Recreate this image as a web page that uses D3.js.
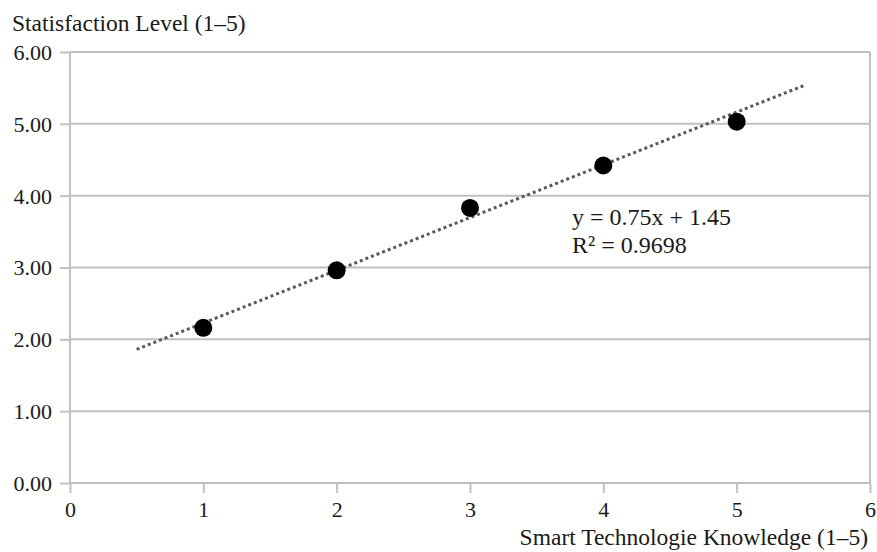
<!DOCTYPE html>
<html><head><meta charset="utf-8">
<script src="https://cdn.jsdelivr.net/npm/d3@7"></script>
<style>body{margin:0;background:#fff}svg{display:block}text{font-family:"Liberation Serif","Times New Roman",serif;fill:#1a1a1a}</style>
</head><body>
<script>
const knowledge = [1, 2, 3, 4, 5];
const satisfaction = [2.16, 2.96, 3.83, 4.42, 5.03];
const trendX = [0.5, 5.5];
const trendY = [1.86, 5.53];
const xTicks = [0, 1, 2, 3, 4, 5, 6];
const yTicks = [0, 1, 2, 3, 4, 5, 6];
const yTitle = "Statisfaction Level (1–5)";
const xTitle = "Smart Technologie Knowledge (1–5)";
const eqLines = ["y = 0.75x + 1.45", "R² = 0.9698"];

const W = 877, H = 552;
const svg = d3.select("body").append("svg").attr("width", W).attr("height", H);
const x = d3.scaleLinear().domain([0, 6]).range([70, 870]);
const y = d3.scaleLinear().domain([0, 6]).range([483, 52]);
const grid = "#c0c0c0";

// horizontal gridlines + y ticks
const yAxis = svg.append("g").attr("transform", `translate(${x(0)},0)`)
  .call(d3.axisLeft(y).tickValues(yTicks).tickSize(10).tickFormat(d3.format(".2f")));
yAxis.select(".domain").remove();
yAxis.selectAll("line").attr("stroke", grid).attr("stroke-width", 2);
yAxis.selectAll("text").attr("font-size", 22).attr("dx", "-5px").attr("dy", "0.34em");
svg.append("g").selectAll("line").data(yTicks).join("line")
  .attr("x1", x(0)).attr("x2", x(6)).attr("y1", d => y(d)).attr("y2", d => y(d))
  .attr("stroke", grid).attr("stroke-width", 2);

// x ticks
const xAxis = svg.append("g").attr("transform", `translate(0,${y(0)})`)
  .call(d3.axisBottom(x).tickValues(xTicks).tickSize(10).tickFormat(d3.format("d")));
xAxis.select(".domain").remove();
xAxis.selectAll("line").attr("stroke", grid).attr("stroke-width", 2);
xAxis.selectAll("text").attr("font-size", 22).attr("dy", "0.95em");

// vertical axis line & right border
svg.append("g").selectAll("line").data([0, 6]).join("line")
  .attr("x1", d => x(d)).attr("x2", d => x(d)).attr("y1", y(6)).attr("y2", y(0))
  .attr("stroke", grid).attr("stroke-width", 2);

// trendline
svg.append("line")
  .attr("x1", x(trendX[0])).attr("y1", y(trendY[0]))
  .attr("x2", x(trendX[1])).attr("y2", y(trendY[1]))
  .attr("stroke", "#595959").attr("stroke-width", 3).attr("stroke-dasharray", "3,3");

// points
svg.append("g").selectAll("circle").data(knowledge).join("circle")
  .attr("cx", (d) => x(d)).attr("cy", (d, i) => y(satisfaction[i])).attr("r", 9)
  .attr("fill", "#000");

// equation
svg.append("g").selectAll("text").data(eqLines).join("text")
  .attr("x", 572).attr("y", (d, i) => 225 + i * 27.5).attr("font-size", 24).text(d => d);

// titles
svg.append("text").attr("x", 12).attr("y", 31).attr("font-size", 23.5).text(yTitle);
svg.append("text").attr("x", 868).attr("y", 545).attr("text-anchor", "end").attr("font-size", 23.5).text(xTitle);
</script>
</body></html>
